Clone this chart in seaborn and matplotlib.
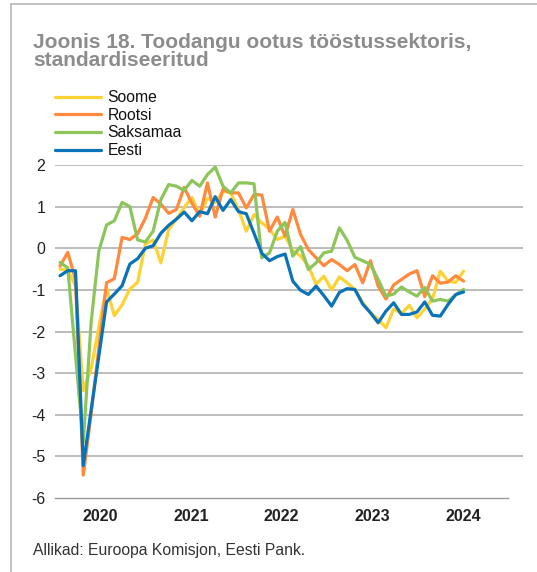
import numpy as np
import pandas as pd
import matplotlib
matplotlib.use("Agg")
import matplotlib.pyplot as plt
import seaborn as sns
from matplotlib.lines import Line2D

# ---------------- data ----------------
months = pd.date_range("2020-01-01", periods=53, freq="MS")
years = ["2020", "2021", "2022", "2023", "2024"]
series_names = ["Soome", "Rootsi", "Saksamaa", "Eesti"]

soome = [-0.5, -0.53, -0.9, -3.42, -2.9, -1.9, -0.95, -1.62, -1.36, -0.98,
         -0.82, 0.1, 0.2, -0.35, 0.45, 0.7, 0.98, 1.22, 0.8, 1.2,
         1.1, 1.37, 1.33, 0.93, 0.41, 0.81, 0.61, 0.46, 0.21, 0.29,
         -0.05, -0.19, -0.42, -0.87, -0.67, -1.0, -0.69, -0.83, -0.99, -1.3,
         -1.55, -1.7, -1.91, -1.46, -1.57, -1.37, -1.67, -1.46, -1.22, -0.55,
         -0.79, -0.82, -0.55]
rootsi = [-0.43, -0.1, -0.75, -5.45, -4.0, -2.4, -0.83, -0.73, 0.26, 0.21,
          0.35, 0.72, 1.22, 1.06, 0.84, 0.93, 1.46, 1.08, 0.77, 1.57,
          0.75, 1.42, 1.33, 1.33, 0.97, 1.29, 1.28, 0.41, 0.75, 0.29,
          0.93, 0.33, -0.03, -0.23, -0.42, -0.27, -0.39, -0.54, -0.39, -0.83,
          -0.3, -0.91, -1.22, -0.88, -0.75, -0.62, -0.54, -1.16, -0.66, -0.84,
          -0.81, -0.66, -0.79]
saksamaa = [-0.34, -0.47, -2.57, -4.66, -1.8, -0.07, 0.56, 0.66, 1.1, 1.0,
            0.2, 0.15, 0.41, 1.17, 1.53, 1.49, 1.39, 1.63, 1.49, 1.77,
            1.95, 1.49, 1.33, 1.57, 1.57, 1.55, -0.23, -0.11, 0.41, 0.62,
            -0.19, 0.04, -0.51, -0.35, -0.11, -0.07, 0.49, 0.19, -0.22, -0.3,
            -0.39, -0.75, -1.15, -1.1, -0.93, -1.05, -1.15, -0.94, -1.27, -1.23,
            -1.27, -1.12, -0.99]
eesti = [-0.66, -0.54, -0.54, -5.22, -3.9, -2.6, -1.29, -1.1, -0.9, -0.38,
         -0.25, 0.0, 0.06, 0.36, 0.55, 0.7, 0.87, 0.66, 0.88, 0.83,
         1.24, 0.91, 1.17, 0.88, 0.83, 0.36, -0.12, -0.3, -0.2, -0.14,
         -0.79, -1.01, -1.11, -0.91, -1.14, -1.39, -1.06, -0.97, -0.99, -1.34,
         -1.55, -1.79, -1.51, -1.31, -1.59, -1.59, -1.53, -1.29, -1.61, -1.63,
         -1.35, -1.11, -1.05]

colors = {"Soome": "#FFD233", "Rootsi": "#FF8A3D", "Saksamaa": "#8CC65A", "Eesti": "#0A73B8"}

frames = []
for name, vals in zip(series_names, [soome, rootsi, saksamaa, eesti]):
    frames.append(pd.DataFrame({"t": np.arange(len(vals)), "month": months,
                                "value": vals, "riik": name}))
df = pd.concat(frames, ignore_index=True)

# ---------------- figure ----------------
sns.set_style("white")
plt.rcParams["font.family"] = ["Liberation Sans", "DejaVu Sans"]

W, H = 537, 572
fig = plt.figure(figsize=(W / 100, H / 100), dpi=100)

def fx(px):
    return px / W

def fy(py):
    return 1 - py / H

ax = fig.add_axes([fx(55), fy(498), (523 - 55) / W, (498 - 165) / H])

sns.lineplot(data=df, x="t", y="value", hue="riik", hue_order=series_names,
             palette=colors, linewidth=2.3, ax=ax, legend=False, sort=False)
for ln in ax.lines:
    ln.set_clip_on(False)
    ln.set_solid_joinstyle("round")

xlo, xhi = -0.644, 59.66
x_axis_end = 57.77
ax.set_xlim(xlo, xhi)
ax.set_ylim(-6, 2)

# y axis
yt = np.arange(-6, 3)
ax.set_yticks(yt)
ax.set_yticklabels([str(v) for v in yt])
ax.tick_params(axis="y", length=0, pad=7, labelsize=11.5, labelcolor="#222222")
for v in yt[1:]:
    ax.axhline(v, color="#a9a9a9", lw=1.1, zorder=0)

# x axis: year separators + centred year labels
edges = np.linspace(xlo, x_axis_end, len(years) + 1)
mids = (edges[:-1] + edges[1:]) / 2
ax.set_xticks(edges)
ax.set_xticklabels([""] * len(edges))
ax.set_xticks(mids, minor=True)
ax.set_xticklabels(years, minor=True, fontweight="bold", fontsize=11.5, color="#222222")
ax.tick_params(axis="x", which="major", direction="in", length=5, width=1.0, color="#9a9a9a")
ax.tick_params(axis="x", which="minor", length=0, pad=8)
ax.set_xlabel("")
ax.set_ylabel("")

for s in ["left", "right", "top"]:
    ax.spines[s].set_visible(False)
ax.spines["bottom"].set_color("#9a9a9a")
ax.spines["bottom"].set_linewidth(1.0)
ax.spines["bottom"].set_bounds(xlo, x_axis_end)

# legend
handles = [Line2D([0], [0], color=colors[n], lw=2.3) for n in series_names]
fig.legend(handles, series_names, loc="upper left",
           bbox_to_anchor=(fx(55), fy(90)), frameon=False, fontsize=11.3,
           handlelength=2.93, handletextpad=0.4, labelspacing=0.17,
           borderpad=0, borderaxespad=0, labelcolor="#111111")

# title
fig.text(fx(33), fy(48), "Joonis 18. Toodangu ootus tööstussektoris,",
         fontsize=15, fontweight="bold", color="#8c8c8c", va="baseline", ha="left")
fig.text(fx(33), fy(66), "standardiseeritud",
         fontsize=15, fontweight="bold", color="#8c8c8c", va="baseline", ha="left")

# source
fig.text(fx(33), fy(555), "Allikad: Euroopa Komisjon, Eesti Pank.",
         fontsize=11.3, color="#333333", va="baseline", ha="left")

# frame lines
fig.add_artist(Line2D([fx(11), fx(11)], [fy(4), 0], color="#b8b8b8", lw=1.2))
fig.add_artist(Line2D([fx(11), 1], [fy(4), fy(4)], color="#b8b8b8", lw=1.2))

fig.savefig("out.png", dpi=100)
